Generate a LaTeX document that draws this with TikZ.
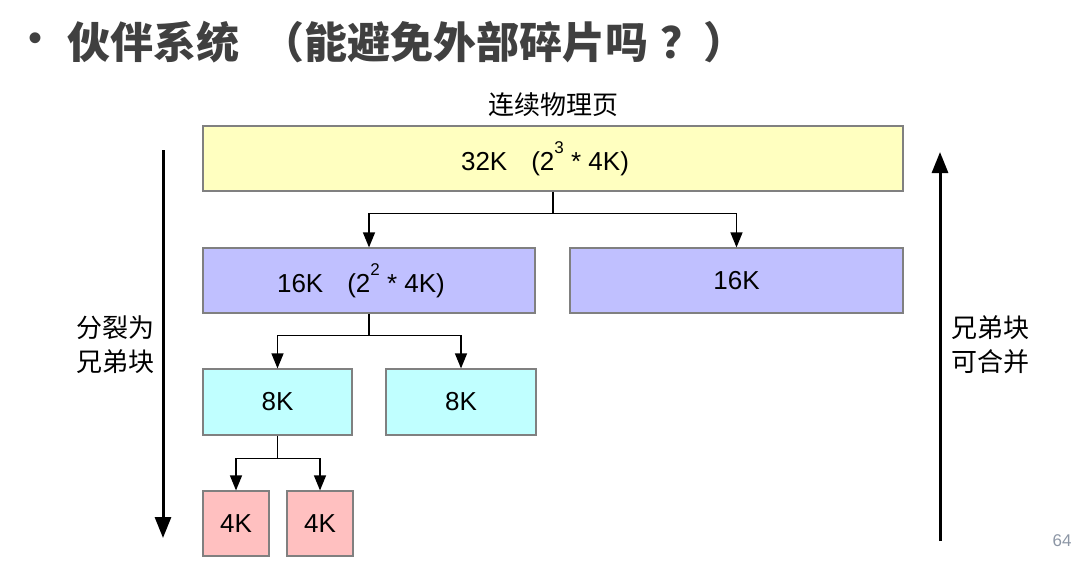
\documentclass[tikz,border=0pt]{standalone}
\usepackage{fontspec}
\setmainfont{Liberation Sans}
\newfontfamily\cjk{Noto Sans CJK SC}
\usetikzlibrary{arrows.meta, positioning}

\definecolor{titlegray}{RGB}{64,64,64}
\definecolor{boxborder}{RGB}{128,128,128}
\definecolor{pageyellow}{RGB}{255,255,192}
\definecolor{pagelilac}{RGB}{192,192,255}
\definecolor{pagecyan}{RGB}{192,255,255}
\definecolor{pagepink}{RGB}{255,192,192}
\definecolor{pagenum}{RGB}{140,150,165}

\newcommand{\powexp}[1]{\raisebox{17pt}{\fontsize{17}{17}\selectfont #1}}

\begin{document}
\begin{tikzpicture}[x=1pt,y=-1pt,
	block/.style={draw=boxborder, line width=1.2pt, inner sep=0pt, font=\fontsize{26}{28}\selectfont},
	split/.style={-{Triangle[length=15pt,width=12pt]}, line width=1.3pt},
	bigarrow/.style={-{Triangle[length=21pt,width=16pt]}, line width=3pt},
	sidelabel/.style={font=\cjk\fontsize{26}{34}\selectfont, align=center}]
	\useasboundingbox (0,0) rectangle (1075,573);

	\node[text=titlegray, font=\fontsize{40}{40}\selectfont] (bullet) at (36,42) {•};
	\node[anchor=west, text=titlegray, font=\cjk\bfseries\fontsize{43}{43}\selectfont] (title) at (64,42) {伙伴系统\hspace{22pt}（能避免外部碎片吗\hspace{12pt}？）};
	\node[font=\cjk\fontsize{26}{26}\selectfont] (contig) at (553,105) {连续物理页};

	\node[block, fill=pageyellow, minimum width=700pt, minimum height=65pt] (whole) at (553,158.5) {\hspace*{-16pt}32K\hspace{24pt}(2\powexp{3} * 4K)};
	\node[block, fill=pagelilac, minimum width=332pt, minimum height=65pt] (halfA) at (369,280.5) {\hspace*{-16pt}16K\hspace{24pt}(2\powexp{2} * 4K)};
	\node[block, fill=pagelilac, minimum width=333pt, minimum height=65pt] (halfB) at (736.5,280.5) {16K};
	\node[block, fill=pagecyan, minimum width=149pt, minimum height=66pt] (quarterA) at (277.5,402) {8K};
	\node[block, fill=pagecyan, minimum width=150pt, minimum height=66pt] (quarterB) at (461,402) {8K};
	\node[block, fill=pagepink, minimum width=66pt, minimum height=65pt] (eighthA) at (236,523.5) {4K};
	\node[block, fill=pagepink, minimum width=66pt, minimum height=65pt] (eighthB) at (320,523.5) {4K};

	\coordinate[below=22pt of whole.south] (forkA);
	\coordinate[below=22pt of halfA.south] (forkB);
	\coordinate[below=23pt of quarterA.south] (forkC);
	\draw[line width=1.3pt] (whole.south) to (forkA);
	\draw[split] (forkA) -| (halfA.north);
	\draw[split] (forkA) -| (halfB.north);
	\draw[line width=1.3pt] (halfA.south) to (forkB);
	\draw[split] (forkB) -| (quarterA.north);
	\draw[split] (forkB) -| (quarterB.north);
	\draw[line width=1.3pt] (quarterA.south) to (forkC);
	\draw[split] (forkC) -| (eighthA.north);
	\draw[split] (forkC) -| (eighthB.north);

	\coordinate (splitTop) at (163,150);
	\coordinate (splitEnd) at (163,538);
	\coordinate (mergeStart) at (940,541);
	\coordinate (mergeEnd) at (940,152);
	\draw[bigarrow] (splitTop) to (splitEnd);
	\draw[bigarrow] (mergeStart) to (mergeEnd);
	\node[sidelabel] (splitText) at (115,345) {分裂为\\兄弟块};
	\node[sidelabel] (mergeText) at (990,345) {兄弟块\\可合并};

	\node[anchor=east, text=pagenum, font=\fontsize{17}{17}\selectfont] (pageNo) at (1075,541) {64};
\end{tikzpicture}
\end{document}
